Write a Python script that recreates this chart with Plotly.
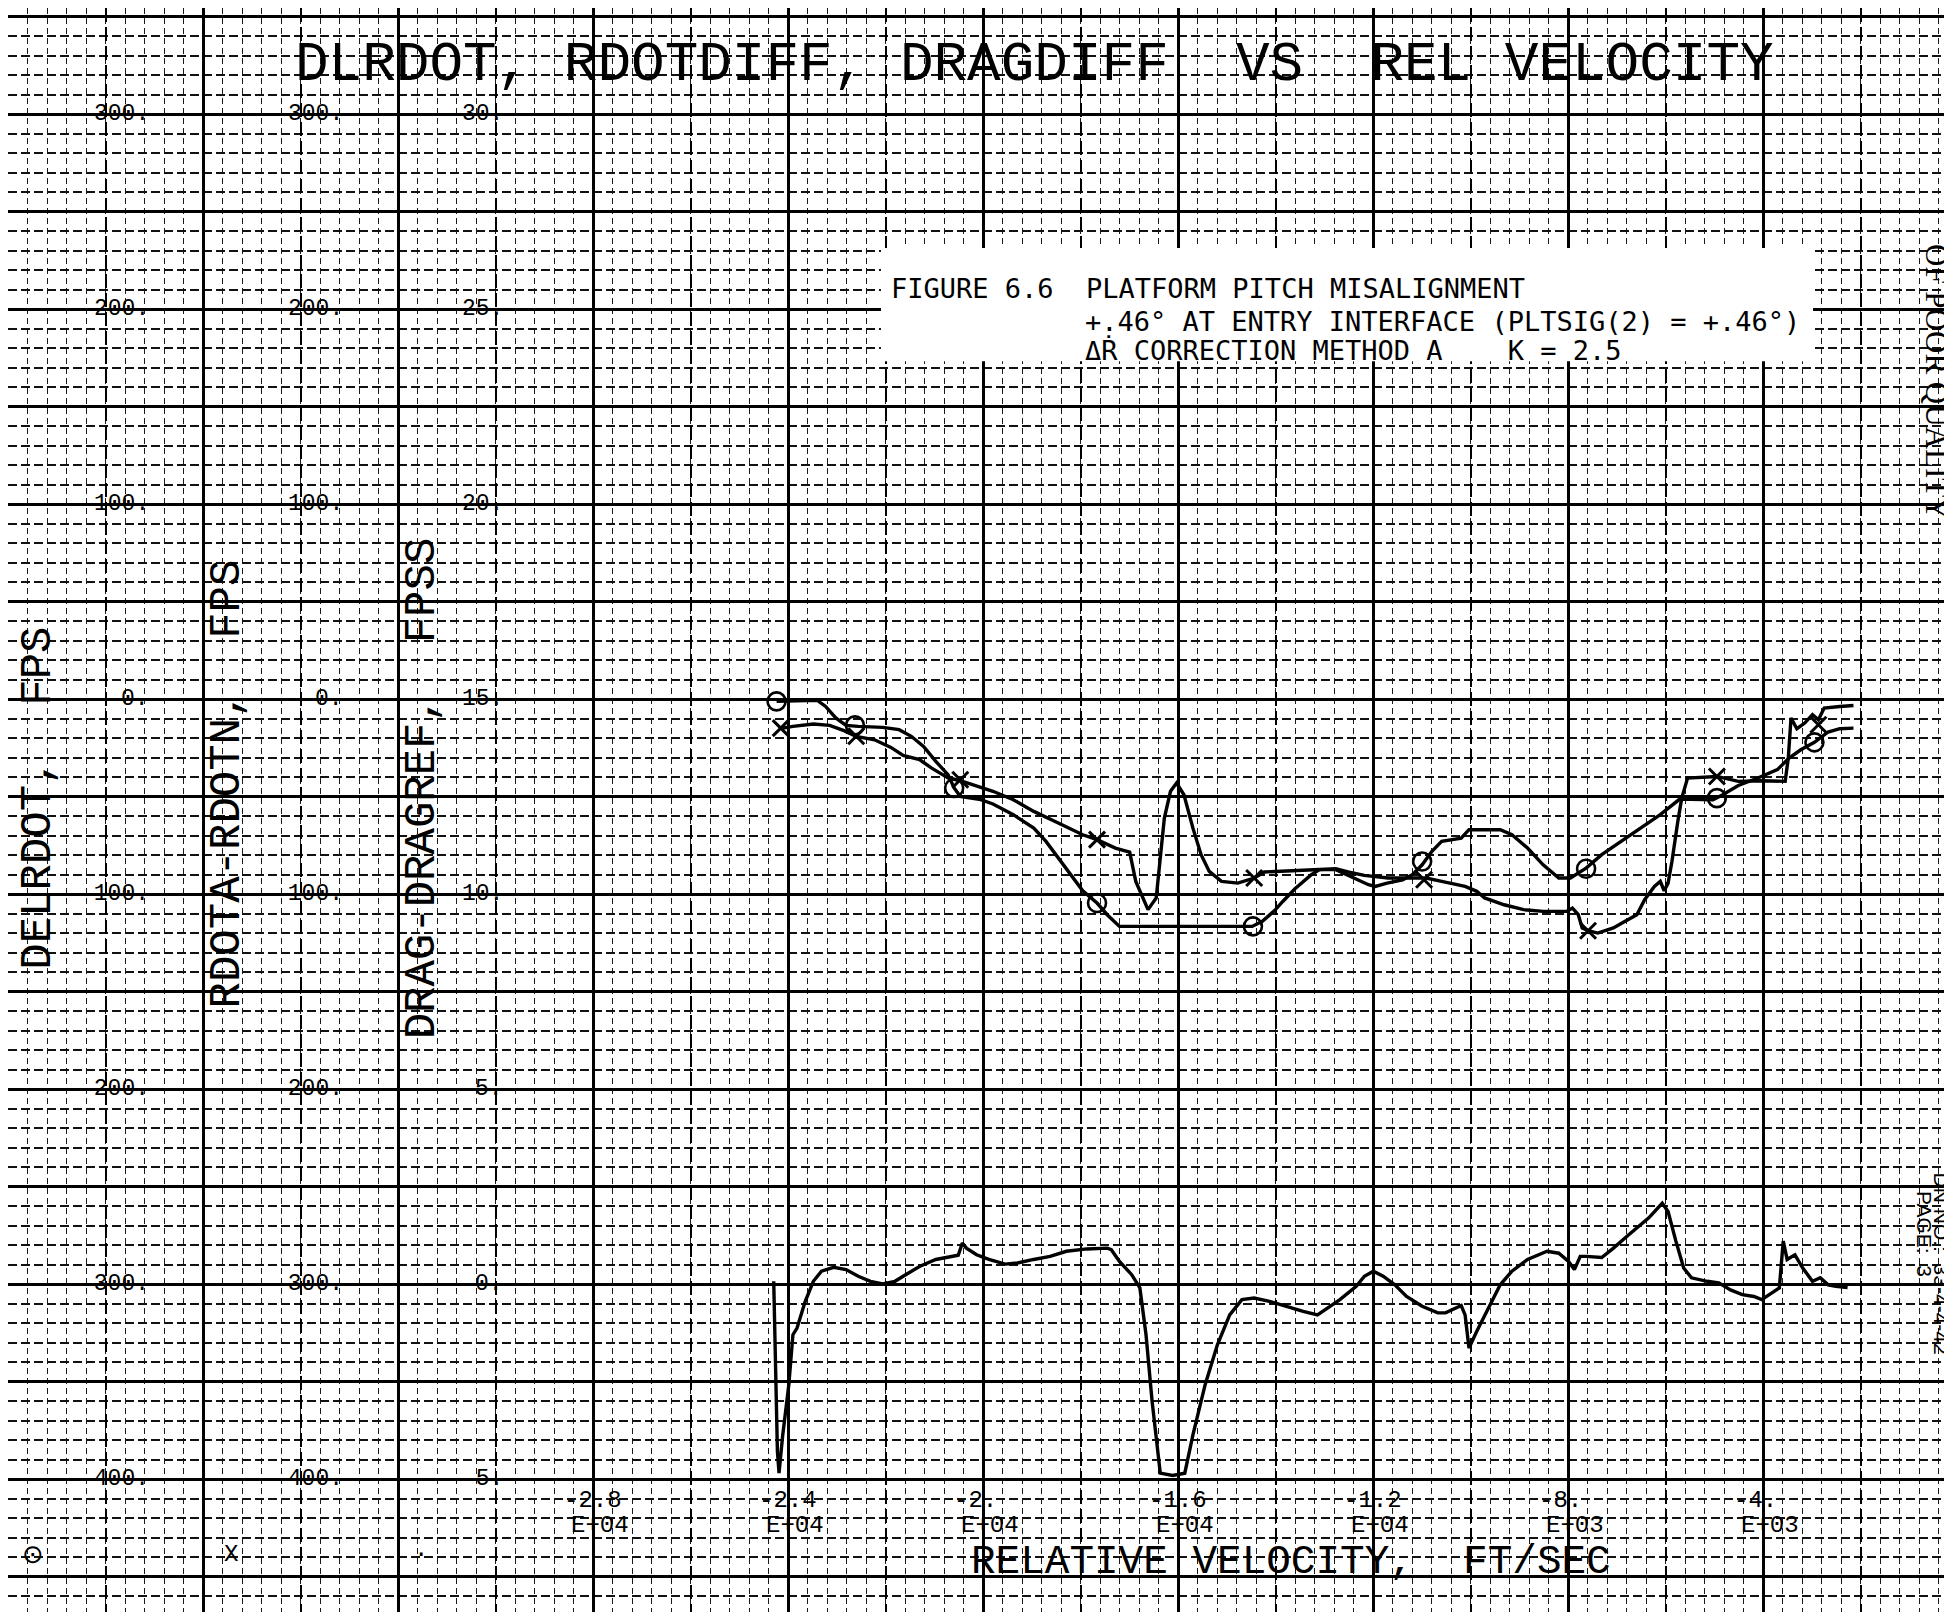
import plotly.graph_objects as go

# ---------------- data ----------------
# DELRDOT (circle symbol), FPS  -- x: relative velocity ft/s
delrdot_v = [-24234, -23397, -23229, -23020, -22810, -22559, -22057, -21722, -21471, -21220,
             -20968, -20717, -20592, -20466, -20047, -19796, -19378, -18959, -18708, -18456,
             -18205, -17954, -17661, -17452, -17201, -16447, -15610, -14772, -14479, -14270,
             -14019, -13851, -13600, -13265, -13098, -12763, -12428, -12093, -11953, -11712,
             -11392, -11192, -10992, -10792, -10591, -10191, -10031, -9390, -9150, -8830,
             -8510, -8189, -7949, -7629, -7308, -6908, -6508, -6107, -5707, -5026,
             -4826, -4506, -4106, -3705, -3465, -3225, -2945, -2665, -2425, -2144]
delrdot_y = [-1.2, -0.7, -3.8, -9.7, -13.5, -14.0, -14.5, -15.7, -19.1, -24.3,
             -32.0, -38.8, -45.6, -49.9, -51.6, -53.8, -59.3, -66.2, -73.0, -81.5,
             -90.1, -98.3, -104.6, -110.6, -116.6, -116.6, -116.6, -116.8, -116.6, -114.0,
             -108.5, -103.8, -97.3, -90.1, -87.5, -87.5, -91.4, -95.2, -96.1, -94.4,
             -92.7, -90.1, -85.0, -78.1, -73.0, -71.3, -67.0, -67.0, -69.6, -76.4,
             -85.0, -91.8, -91.8, -86.7, -79.8, -73.0, -66.2, -59.3, -51.3, -51.6,
             -49.1, -44.3, -40.5, -36.2, -30.3, -26.0, -22.2, -16.9, -15.2, -14.9]
delrdot_mark_v = [-24234, -22626, -20592, -17661, -14463, -10992, -7629, -4946, -2945]
delrdot_mark_y = [-1.2, -13.5, -45.6, -104.6, -116.6, -83.3, -87.0, -50.8, -22.2]

# RDOTA-RDOTN (x symbol), FPS
rdot_v = [-24108, -23899, -23480, -23145, -22852, -22601, -22224, -21889, -21638, -21303,
          -21052, -20717, -20466, -20131, -19796, -19378, -18959, -18456, -17954, -17661,
          -17284, -16991, -16866, -16615, -16447, -16280, -16154, -16029, -15878, -15694,
          -15526, -15359, -15108, -14772, -14437, -14228, -13935, -13098, -12763, -12512,
          -12177, -11691, -11232, -10912, -10591, -10111, -9871, -9711, -9310, -8910,
          -8510, -8029, -7909, -7789, -7709, -7589, -7389, -7069, -6828, -6588,
          -6428, -6228, -6107, -6027, -5947, -5867, -5747, -5667, -5547, -5147,
          -4946, -4506, -4026, -3545, -3481, -3425, -3305, -3144, -2985, -2864,
          -2745, -2425, -2144]
rdot_y = [-14.9, -14.0, -12.8, -13.5, -16.2, -19.1, -20.9, -24.8, -28.9, -31.1,
          -35.4, -40.5, -41.9, -44.8, -47.3, -51.6, -57.6, -63.6, -69.6, -72.1,
          -76.4, -78.5, -93.5, -108.0, -102.0, -61.0, -47.3, -43.1, -49.1, -66.2,
          -79.8, -88.4, -93.5, -94.4, -91.8, -88.7, -88.4, -87.5, -87.0, -88.7,
          -90.4, -91.8, -91.8, -91.8, -93.5, -96.1, -98.6, -102.0, -105.5, -108.0,
          -108.9, -108.9, -107.2, -110.6, -117.4, -118.8, -120.0, -117.4, -114.0, -110.6,
          -102.9, -96.1, -93.5, -98.3, -94.4, -83.2, -62.7, -50.8, -40.5, -39.7,
          -39.7, -42.2, -41.9, -42.2, -30.3, -9.7, -15.2, -12.3, -8.0, -10.6,
          -4.6, -3.8, -3.3]
rdot_mark_v = [-24150, -22601, -20466, -17661, -14437, -10952, -7589, -4946, -2864]
rdot_mark_y = [-14.9, -19.1, -41.4, -72.1, -91.8, -92.7, -118.8, -39.7, -13.2]

# DRAG-DRAGREF (no symbol), FPSS
drag_v = [-24293, -24217, -24184, -24108, -23983, -23899, -23815, -23648, -23480, -23313,
          -23062, -22810, -22559, -22308, -22057, -21806, -21638, -21303, -20968, -20634,
          -20508, -20424, -20340, -20131, -19880, -19545, -19294, -18959, -18624, -18289,
          -17870, -17452, -17368, -17201, -16950, -16782, -16656, -16531, -16364, -16112,
          -15861, -15694, -15443, -15192, -14940, -14689, -14437, -14102, -13767, -13432,
          -13139, -12930, -12679, -12344, -12177, -11993, -11792, -11552, -11312, -10992,
          -10671, -10511, -10191, -10111, -10031, -9871, -9630, -9390, -9150, -8830,
          -8430, -8189, -7989, -7869, -7749, -7629, -7308, -7068, -6748, -6348,
          -6067, -5947, -5787, -5627, -5467, -5147, -4906, -4666, -4426, -4186,
          -4026, -3865, -3665, -3585, -3505, -3345, -3185, -2985, -2825, -2665,
          -2505, -2265]
drag_y = [0.07, -4.29, -4.85, -3.87, -2.58, -1.30, -1.13, -0.45, 0.07, 0.33,
          0.43, 0.37, 0.20, 0.07, 0.00, 0.07, 0.20, 0.45, 0.63, 0.71,
          0.74, 1.05, 0.92, 0.75, 0.63, 0.51, 0.54, 0.63, 0.71, 0.84,
          0.90, 0.92, 0.88, 0.58, 0.24, -0.10, -1.30, -3.01, -4.85, -4.91,
          -4.85, -3.87, -2.58, -1.56, -0.79, -0.40, -0.36, -0.45, -0.58, -0.70,
          -0.79, -0.62, -0.40, -0.06, 0.20, 0.33, 0.20, -0.02, -0.32, -0.57,
          -0.74, -0.74, -0.55, -0.79, -1.64, -1.21, -0.62, -0.02, 0.33, 0.63,
          0.84, 0.79, 0.58, 0.37, 0.71, 0.71, 0.68, 0.92, 1.27, 1.69,
          2.07, 1.86, 1.10, 0.41, 0.16, 0.07, 0.03, -0.15, -0.27, -0.32,
          -0.40, -0.27, -0.10, 1.10, 0.63, 0.75, 0.41, 0.07, 0.16, -0.02,
          -0.06, -0.09]

# tick labels
x_tick_vals = [-28000, -24000, -20000, -16000, -12000, -8000, -4000]
x_tick_mant = ["-2.8", "-2.4", "-2.\u00a0", "-1.6", "-1.2", "-8.\u00a0", "-4.\u00a0"]
x_tick_exp = ["E+04", "E+04", "E+04", "E+04", "E+04", "E+03", "E+03"]
y_tick_vals = [300, 200, 100, 0, -100, -200, -300, -400]
y_tick_text = ["300.", "200.", "100.", "0.", "-100.", "-200.", "-300.", "-400."]
drag_tick_vals = [30, 25, 20, 15, 10, 5, 0, -5]
drag_tick_text = ["30.", "25.", "20.", "15.", "10.", "5.", "0.", "-5."]

# ---------------- layout constants ----------------
W, H = 1952, 1612
X_RANGE = [-40000, 41]
Y_RANGE = [-472.3, 354.4]
Y2_RANGE = [15 + Y_RANGE[0] / 20, 15 + Y_RANGE[1] / 20]
MONO = "Liberation Mono, DejaVu Sans Mono, monospace"
TYPE = "DejaVu Sans Mono, Liberation Mono, monospace"
INK = "black"

fig = go.Figure()

fig.add_trace(go.Scatter(x=delrdot_v, y=delrdot_y, mode="lines",
                         line=dict(color=INK, width=3.4), hoverinfo="skip"))
fig.add_trace(go.Scatter(x=rdot_v, y=rdot_y, mode="lines",
                         line=dict(color=INK, width=3.4), hoverinfo="skip"))
fig.add_trace(go.Scatter(x=delrdot_mark_v, y=delrdot_mark_y, mode="markers",
                         marker=dict(symbol="circle-open", size=18, color=INK,
                                     line=dict(width=2.6, color=INK)), hoverinfo="skip"))
fig.add_trace(go.Scatter(x=rdot_mark_v, y=rdot_mark_y, mode="markers",
                         marker=dict(symbol="x-thin-open", size=16, color=INK,
                                     line=dict(width=3, color=INK)), hoverinfo="skip"))
fig.add_trace(go.Scatter(x=drag_v, y=drag_y, mode="lines", xaxis="x2", yaxis="y2",
                         line=dict(color=INK, width=3.4), hoverinfo="skip"))

grid_major = dict(showgrid=True, gridcolor=INK, gridwidth=2.6)
fig.update_layout(
    width=W, height=H, margin=dict(l=0, r=0, t=0, b=0),
    paper_bgcolor="white", plot_bgcolor="white", showlegend=False,
    xaxis=dict(range=X_RANGE, tick0=0, dtick=4000, **grid_major,
               minor=dict(dtick=400, tick0=0, showgrid=True, gridcolor="#1a1a1a",
                          gridwidth=1.4, griddash="6px,4px"),
               showticklabels=False, ticks="", zeroline=False, showline=False),
    xaxis2=dict(range=X_RANGE, overlaying="x", tick0=0, dtick=2000, showgrid=True,
                gridcolor=INK, gridwidth=1.8, griddash="14px,5px",
                showticklabels=False, ticks="", zeroline=False, showline=False),
    yaxis=dict(range=Y_RANGE, tick0=0, dtick=50, **grid_major,
               minor=dict(dtick=10, tick0=0, showgrid=True, gridcolor="#111",
                          gridwidth=1.9, griddash="9px,4px"),
               showticklabels=False, ticks="", zeroline=False, showline=False),
    yaxis2=dict(range=Y2_RANGE, overlaying="y", showgrid=False, showticklabels=False,
                ticks="", zeroline=False, showline=False),
)

# white pasted-on caption box
fig.add_shape(type="rect", xref="x", yref="y", x0=-22093, x1=-2974, y0=173.3, y1=231.3,
              fillcolor="white", line=dict(width=0), layer="above")

ann = []
def txt(x, y, s, size, xref="x", yref="y", xanchor="center", yanchor="middle",
        angle=0, family=MONO):
    ann.append(dict(x=x, y=y, xref=xref, yref=yref, text=s, showarrow=False,
                    xanchor=xanchor, yanchor=yanchor, textangle=angle,
                    font=dict(family=family, size=size, color=INK)))

NB = "\u00a0"
# title
txt(0.526, 0.9646, "DLRDOT," + NB + "RDOTDIFF," + NB + "DRAGDIFF" + NB * 2 + "VS" + NB * 2
    + "REL" + NB + "VELOCITY", 56, xref="paper", yref="paper")

# left tick label columns
for v, t in zip(y_tick_vals, y_tick_text):
    txt(-37067, v, t, 23, xanchor="right")
    txt(-33088, v, t, 23, xanchor="right")
for v, t in zip(drag_tick_vals, drag_tick_text):
    txt(-29805, v, t, 23, yref="y2", xanchor="right")

# axis titles (rotated)
txt(-39400, -51.0, "DELRDOT," + NB * 2 + "FPS", 44, angle=-90)
txt(-35500, -43.6, "RDOTA-RDOTN," + NB * 2 + "FPS", 44, angle=-90)
txt(-31500, -45.6, "DRAG-DRAGREF," + NB * 2 + "FPSS", 44, angle=-90)

# x tick labels
for v, m, e in zip(x_tick_vals, x_tick_mant, x_tick_exp):
    txt(v, -410.8, m, 24)
    txt(v + 150, -423.6, e, 24)

# x title
txt(-13683, -442.6, "RELATIVE" + NB + "VELOCITY," + NB * 2 + "FT/SEC", 41)

# symbol keys
txt(-39488, -438.5, "\u2299", 26, family="DejaVu Sans")
txt(-35426, -438.5, "X", 24)
txt(-31528, -436.0, ".", 24)

# caption text (typewriter, fixed pitch)
txt(-21928, 210.8, "FIGURE 6.6" + NB * 2 + "PLATFORM PITCH MISALIGNMENT", 27,
    xanchor="left", family=TYPE)
txt(-17949, 193.8, "+.46\u00b0 AT ENTRY INTERFACE (PLTSIG(2) = +.46\u00b0)", 27,
    xanchor="left", family=TYPE)
txt(-17949, 178.5, "\u0394\u1e58 CORRECTION METHOD A" + NB * 4 + "K = 2.5", 27,
    xanchor="left", family=TYPE)

# right margin stamps
SERIF = "Liberation Serif, DejaVu Serif, serif"
txt(0.9877, 0.768, "OF POOR QUALITY", 31, xref="paper", yref="paper", angle=90, family=SERIF)
txt(0.9905, 0.2208, "DN NO.:" + NB * 2 + "33-4-4-42", 21, xref="paper", yref="paper",
    angle=90, family="Liberation Sans, sans-serif")
txt(0.9815, 0.2395, "PAGE:" + NB * 2 + "3", 21, xref="paper", yref="paper",
    angle=90, family="Liberation Sans, sans-serif")

fig.update_layout(annotations=ann)
fig.write_html("out.html")
